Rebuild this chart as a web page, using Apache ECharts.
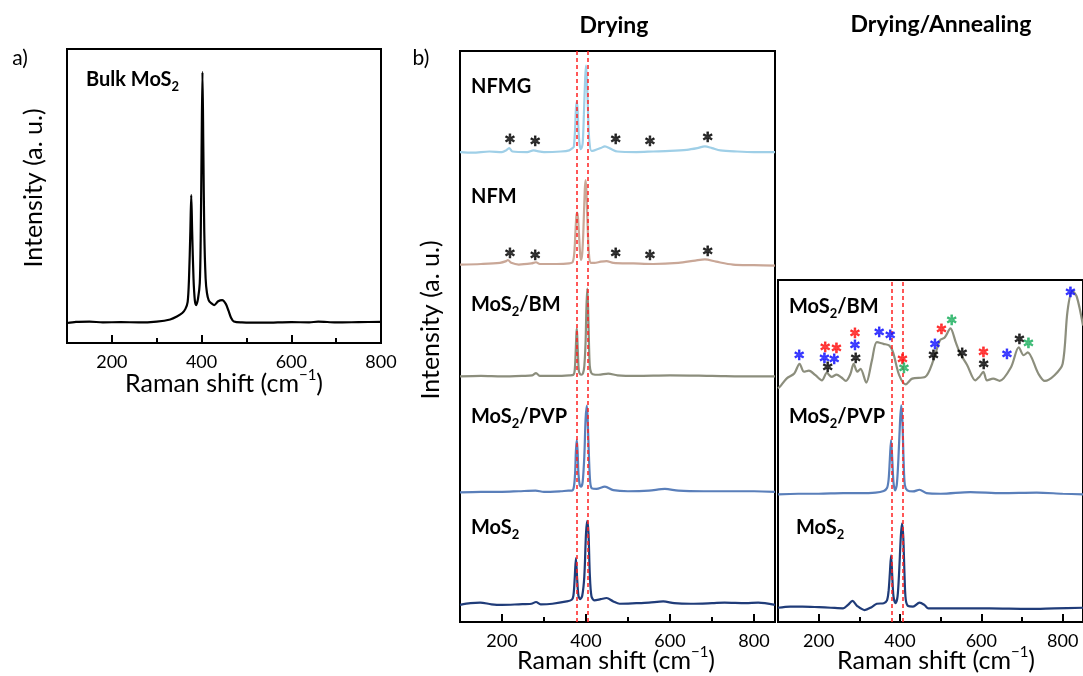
<!DOCTYPE html>
<html><head><meta charset="utf-8">
<script src="https://cdn.jsdelivr.net/npm/echarts@6/dist/echarts.min.js"></script>
<style>html,body{margin:0;padding:0;background:#fff}#c{width:1083px;height:676px}</style>
</head><body><div id="c"></div>
<script>
// ---------- data (Raman shift in cm^-1, intensity in arbitrary units) ----------
const majorTicks = [200, 400, 600, 800];
const minorTicks = [300, 500, 700];

const bulkMoS2 = [[100,6.8],[120,7.2],[150,7.3],[180,7.0],[220,7.1],[260,7.0],[300,7.3],[330,8.0],[345,9.0],[357,10.2],[364,11.6],[369,14],[372,22],[375,38],[377,50.3],[379,38],[382,22],[385,14.5],[388,12.9],[392,15],[396,20.4],[398,35],[400,65],[402,92.2],[404,65],[406,38],[409,22],[412,17],[416,14.5],[421,13.6],[428,12.9],[437,14.2],[446,14.6],[454,13.3],[460,11],[466,8.5],[472,7.3],[490,7.0],[540,6.9],[600,7.1],[640,7.0],[660,7.3],[700,7.0],[750,7.1],[800,7.2]];

const dryNFMG = [[100,82.3],[130,82.2],[170,82.4],[200,82.3],[210,82.6],[217,83.0],[225,82.4],[260,82.3],[275,82.6],[282,82.5],[300,82.3],[340,82.4],[360,82.6],[368,83.0],[371,83.2],[374,86.3],[376,89.8],[378,91.1],[380,89.8],[382,86.3],[385,83.5],[388,82.8],[392,83.8],[395,88.9],[398,95.2],[400,97.5],[402,95.2],[405,88.9],[408,84.2],[413,82.5],[420,82.6],[435,83.0],[445,83.3],[458,82.9],[475,82.4],[520,82.3],[560,82.4],[600,82.5],[640,82.7],[665,83.0],[683,83.3],[700,83.0],[720,82.6],[760,82.4],[800,82.3],[850,82.3]];
const dryNFM = [[100,62.6],[150,62.7],[195,62.9],[210,63.2],[214,63.4],[222,62.9],[240,62.6],[270,62.8],[281,63.0],[290,62.7],[330,62.7],[360,62.8],[368,63.0],[372,64.5],[375,68.5],[377,71.0],[379,71.7],[381,70.8],[384,67],[386,64.5],[388,63.4],[391,64.5],[394,69],[397,75.5],[399,77.4],[401,75.5],[404,69],[407,64.5],[411,62.9],[420,62.9],[435,63.1],[449,63.2],[465,62.9],[513,62.8],[560,62.7],[620,62.9],[660,63.3],[683,63.5],[710,63.1],[750,62.6],[800,62.5],[850,62.4]];
const dryBM = [[100,43.0],[150,43.1],[200,43.0],[250,43.1],[272,43.2],[281,43.6],[290,43.1],[330,43.1],[360,43.2],[370,43.3],[373,44.0],[375,46.5],[377,50.3],[378,51.4],[379,50.3],[381,46.5],[383,44.0],[386,43.4],[389,43.3],[393,43.6],[396,44.8],[399,49],[401,55],[403,58.4],[405,55],[407,49],[409,44.8],[412,43.7],[416,43.4],[430,43.3],[453,43.5],[475,43.2],[520,43.1],[600,43.2],[700,43.1],[800,43.0],[850,43.0]];
const dryPVP = [[100,22.7],[150,22.8],[200,22.8],[240,22.9],[280,23.0],[300,22.8],[340,22.9],[358,23.0],[366,23.0],[371,23.6],[374,26],[376,30],[378,31.9],[380,30],[382,26],[385,24],[388,23.7],[392,24.5],[396,29],[399,35.5],[402,37.9],[404,35.5],[407,29],[410,24.5],[414,23.4],[425,23.3],[445,23.7],[465,23.1],[500,22.9],[550,23.0],[588,23.3],[620,23.0],[680,22.9],[740,22.9],[800,22.9],[850,22.8]];
const dryMoS2 = [[100,3.0],[125,3.3],[148,3.4],[175,3.1],[200,3.0],[240,3.1],[270,3.2],[281,3.5],[292,3.1],[320,3.2],[354,3.6],[366,3.9],[370,4.6],[373,7.5],[376,11.2],[379,7.5],[382,4.6],[386,4.0],[391,4.6],[396,8],[400,15.5],[403,17.7],[406,15.5],[409,8.5],[413,4.5],[420,3.8],[435,4.0],[449,4.2],[465,3.6],[480,3.2],[520,3.3],[550,3.4],[584,3.6],[610,3.3],[650,3.2],[700,3.3],[730,3.4],[780,3.3],[810,3.4],[850,3.0]];

const annBM = [[100,41.0],[105,41.3],[121,42.7],[140,43.6],[153,45.3],[164,43.9],[176,44.1],[192,43.3],[208,42.4],[220,43.7],[232,43.0],[244,43.4],[256,42.9],[267,42.3],[278,43.5],[286,45.3],[295,43.9],[303,44.4],[317,42.0],[331,45.9],[343,49.1],[359,48.8],[374,48.5],[383,47.3],[398,43.3],[414,41.7],[430,42.7],[462,43.0],[482,45.9],[498,49.4],[510,49.9],[524,51.5],[537,49.1],[548,47.1],[565,45.1],[585,42.4],[595,43.0],[605,43.9],[614,42.4],[629,42.7],[645,42.3],[673,44.7],[692,48.2],[704,46.8],[714,47.3],[740,43.6],[756,42.3],[780,43.3],[800,45.3],[812,54.6],[824,58.1],[835,57],[850,52]];
const annPVP = [[100,22.4],[150,22.5],[200,22.5],[260,22.6],[300,22.6],[340,22.7],[360,23.0],[368,23.5],[372,25],[375,28.5],[378,31.9],[381,28.5],[384,24.5],[388,23.1],[392,24],[396,28.5],[400,35],[403,38.0],[406,35],[409,28],[412,24],[418,23.1],[432,22.9],[448,23.2],[465,22.6],[500,22.5],[573,22.8],[650,22.6],[736,22.7],[800,22.5],[850,22.4]];
const annMoS2 = [[100,2.5],[130,2.7],[160,2.7],[200,2.6],[230,2.5],[260,2.4],[272,3.0],[283,3.7],[295,2.8],[313,2.1],[330,2.6],[343,3.2],[360,3.3],[368,3.8],[372,5.5],[375,8.5],[378,11.7],[381,8],[384,4.5],[389,3.3],[394,4.5],[398,9],[402,15],[405,17.3],[408,15],[411,8.5],[414,4],[420,2.8],[432,2.7],[448,3.4],[460,3.0],[470,2.4],[520,2.4],[557,2.4],[620,2.4],[716,2.3],[780,2.4],[850,2.5]];

// peak-marker asterisks [shift, intensity, colour key]
const dryStars = [[219,84.8,'k'],[279,84.4,'k'],[471,84.8,'k'],[552,84.4,'k'],[690,85.1,'k'],
                  [219,64.8,'k'],[279,64.4,'k'],[471,64.8,'k'],[552,64.4,'k'],[690,65.1,'k']];
const annStars = [[152,47.0,'b'],[216,48.4,'r'],[244,48.2,'r'],[214,46.5,'b'],[238,46.4,'b'],[222,44.9,'k'],
                  [289,50.9,'r'],[289,48.8,'b'],[291,46.5,'k'],[349,51.1,'b'],[376,50.6,'b'],
                  [406,46.4,'r'],[410,44.8,'g'],[486,48.9,'b'],[482,47.0,'k'],[502,51.5,'r'],[527,53.1,'g'],
                  [553,47.4,'k'],[605,47.6,'r'],[606,45.4,'k'],[663,47.2,'b'],[694,49.8,'k'],[716,49.2,'g'],[819,58.1,'b']];

const refLinesDry = [377, 405];
const refLinesAnn = [379, 407];

const drySeries = [
  {name: 'NFMG', data: dryNFMG, color: '#9fcfe7'},
  {name: 'NFM', data: dryNFM, color: '#c9a797'},
  {name: 'MoS2/BM', data: dryBM, color: '#8c8e7d'},
  {name: 'MoS2/PVP', data: dryPVP, color: '#5a7fba'},
  {name: 'MoS2', data: dryMoS2, color: '#203c79'}
];
const annSeries = [
  {name: 'MoS2/BM', data: annBM, color: '#8c8e7d'},
  {name: 'MoS2/PVP', data: annPVP, color: '#5a7fba'},
  {name: 'MoS2', data: annMoS2, color: '#203c79'}
];
const starColors = {k: '#000000', b: '#1010ff', r: '#ff1010', g: '#1fb060'};

// ---------- chart ----------
const FONT = 'Lato';
const chart = echarts.init(document.getElementById('c'), null, {renderer: 'canvas'});

const grids = [
  {left: 67, top: 49, width: 314, height: 294},
  {left: 460, top: 51, width: 315, height: 571},
  {left: 778, top: 280, width: 315, height: 342}
];
const xRanges = [[100, 800], [100, 850], [100, 850]];
const yMax = [100, 100, 60];

const xAxes = [], yAxes = [];
grids.forEach((g, i) => {
  xAxes.push({type: 'value', gridIndex: i, position: 'bottom', min: xRanges[i][0], max: xRanges[i][1], interval: 100,
    axisLine: {show: false}, splitLine: {show: false},
    axisTick: {show: true, inside: true, length: 8, lineStyle: {color: '#000', width: 2}, customValues: majorTicks},
    axisLabel: {show: true, customValues: majorTicks, fontSize: 18, color: '#000', fontFamily: FONT, margin: 10}});
  xAxes.push({type: 'value', gridIndex: i, position: 'bottom', min: xRanges[i][0], max: xRanges[i][1], interval: 100,
    axisLine: {show: false}, splitLine: {show: false},
    axisTick: {show: true, inside: true, length: 5, lineStyle: {color: '#000', width: 2}, customValues: minorTicks},
    axisLabel: {show: false}});
  yAxes.push({type: 'value', gridIndex: i, min: 0, max: yMax[i], show: false});
});

function lineSeries(d, gi, extra) {
  return Object.assign({
    type: 'line', name: d.name, data: d.data, xAxisIndex: gi * 2, yAxisIndex: gi,
    showSymbol: false, symbol: 'none', smooth: 0.3, silent: true,
    lineStyle: {color: d.color, width: 2.2}, itemStyle: {color: d.color}, z: 3
  }, extra || {});
}
function dashMarks(vals) {
  return {symbol: 'none', silent: true, label: {show: false}, z: 5,
    lineStyle: {color: '#ff2020', type: [4, 3], width: 1.5},
    data: vals.map(v => ({xAxis: v}))};
}
function starSeries(stars, gi) {
  return {type: 'scatter', xAxisIndex: gi * 2, yAxisIndex: gi, symbol: 'circle', symbolSize: 2, silent: true, z: 6,
    itemStyle: {color: 'rgba(0,0,0,0)'},
    data: stars.map(s => ({value: [s[0], s[1]],
      label: {color: starColors[s[2]], textBorderColor: starColors[s[2]], textBorderWidth: 0.8}})),
    label: {show: true, position: 'inside', formatter: '*', fontSize: 28, fontWeight: 'bold', fontFamily: FONT, offset: [0, 8]}};
}

const series = [];
series.push(lineSeries({name: 'Bulk MoS2', data: bulkMoS2, color: '#000'}, 0));
drySeries.forEach((d, k) => series.push(lineSeries(d, 1, k === 2 ? {markLine: dashMarks(refLinesDry)} : {})));
annSeries.forEach((d, k) => series.push(lineSeries(d, 2, k === 1 ? {markLine: dashMarks(refLinesAnn)} : {})));
series.push(starSeries(dryStars, 1));
series.push(starSeries(annStars, 2));

const richBase = {
  b: {fontSize: 20, fontWeight: 'bold', fontFamily: FONT, lineHeight: 26, fill: '#000'},
  s: {fontSize: 13, fontWeight: 'bold', fontFamily: FONT, lineHeight: 13, verticalAlign: 'bottom', fill: '#000'}
};
function richLabel(x, y, text) {
  return {type: 'text', x: x, y: y, silent: true, z: 10,
    style: {text: text, rich: richBase, align: 'left', verticalAlign: 'middle'}};
}
function plain(x, y, text, size, weight, rot) {
  return {type: 'text', x: x, y: y, rotation: rot || 0, silent: true, z: 10,
    style: {text: text, fontSize: size, fontWeight: weight || 'normal', fontFamily: FONT, fill: '#000', align: 'center', verticalAlign: 'middle'}};
}
const richTitle = {
  m: {fontSize: 25, fontFamily: FONT, lineHeight: 32, fill: '#000'},
  p: {fontSize: 15, fontFamily: FONT, lineHeight: 15, verticalAlign: 'top', fill: '#000'}
};
function xTitle(x, y) {
  return {type: 'text', x: x, y: y, silent: true, z: 10,
    style: {text: '{m|Raman shift (cm}{p|\u22121}{m|)}', rich: richTitle, align: 'center', verticalAlign: 'middle'}};
}

const sub = (a, b, c) => '{b|' + a + '}{s|' + b + '}' + (c ? '{b|' + c + '}' : '');

const graphic = [
  plain(20, 58, 'a)', 21),
  plain(421, 58, 'b)', 21),
  plain(614, 26, 'Drying', 23, 'bold'),
  plain(941, 25, 'Drying/Annealing', 23, 'bold'),
  richLabel(86, 80, sub('Bulk MoS', '2')),
  richLabel(471, 87, '{b|NFMG}'),
  richLabel(471, 197, '{b|NFM}'),
  richLabel(471, 305, sub('MoS', '2', '/BM')),
  richLabel(471, 417, sub('MoS', '2', '/PVP')),
  richLabel(471, 528, sub('MoS', '2')),
  richLabel(789, 307, sub('MoS', '2', '/BM')),
  richLabel(789, 417, sub('MoS', '2', '/PVP')),
  richLabel(796, 528, sub('MoS', '2')),
  plain(34, 188, 'Intensity (a. u.)', 25, 'normal', Math.PI / 2),
  plain(431, 320, 'Intensity (a. u.)', 25, 'normal', Math.PI / 2),
  xTitle(224, 384),
  xTitle(616, 661),
  xTitle(936, 661)
];

chart.setOption({
  animation: false,
  backgroundColor: '#fff',
  grid: grids.map(g => Object.assign({show: true, borderColor: '#000', borderWidth: 2, backgroundColor: 'transparent', containLabel: false}, g)),
  xAxis: xAxes,
  yAxis: yAxes,
  series: series,
  graphic: graphic
});
</script></body></html>
